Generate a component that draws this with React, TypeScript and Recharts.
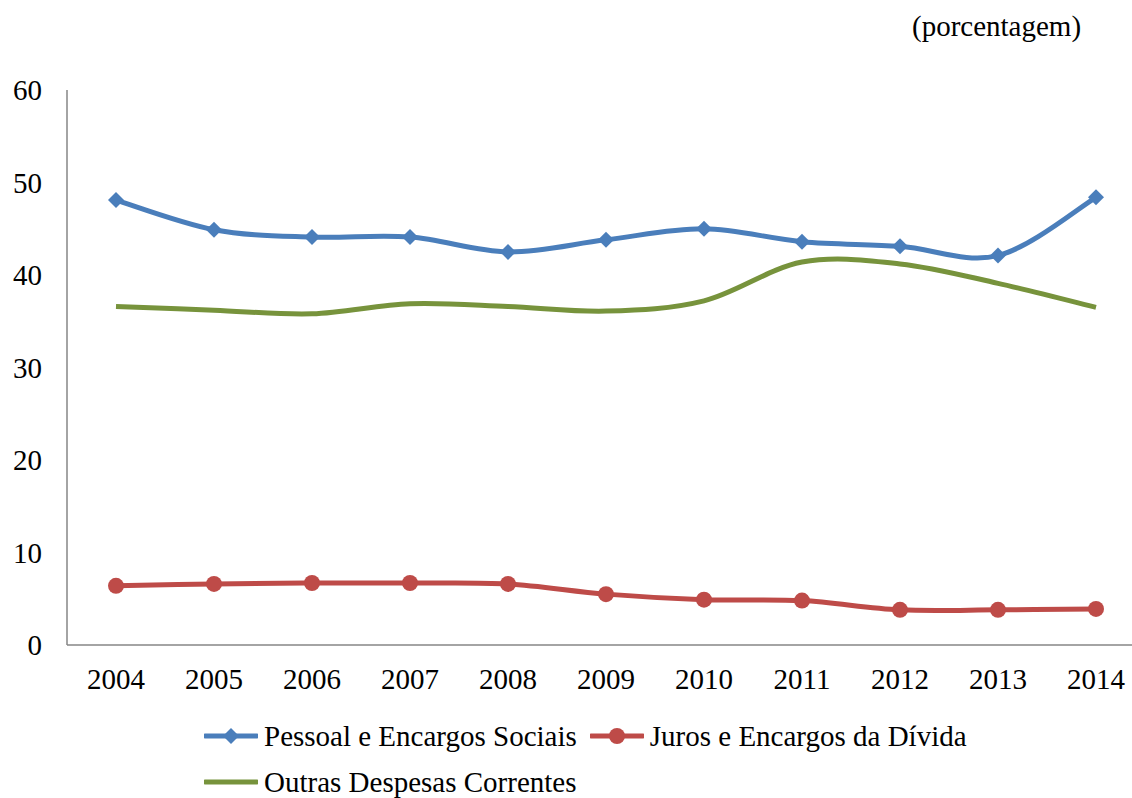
import React from 'react';
import { LineChart, Line, XAxis, YAxis } from 'recharts';

// --- Data ---
const years = ['2004', '2005', '2006', '2007', '2008', '2009', '2010', '2011', '2012', '2013', '2014'];
const pessoal = [48.1, 44.9, 44.1, 44.1, 42.5, 43.8, 45.0, 43.6, 43.1, 42.1, 48.4];
const juros = [6.4, 6.6, 6.7, 6.7, 6.6, 5.5, 4.9, 4.8, 3.8, 3.8, 3.9];
const outras = [36.6, 36.2, 35.8, 36.9, 36.6, 36.1, 37.2, 41.4, 41.2, 39.1, 36.5];
const yTicks = [0, 10, 20, 30, 40, 50, 60];

const FONT = '"Liberation Serif", "Times New Roman", serif';
const AXIS_COLOR = '#868686';

const series = [
  { key: 'pessoal', name: 'Pessoal e Encargos Sociais', color: '#4A7EBB', marker: 'diamond' },
  { key: 'juros', name: 'Juros e Encargos da Dívida', color: '#BE4B48', marker: 'circle' },
  { key: 'outras', name: 'Outras Despesas Correntes', color: '#77933C', marker: 'none' },
];

const data = years.map((year, i) => ({
  year,
  pessoal: pessoal[i],
  juros: juros[i],
  outras: outras[i],
}));

// Smoothed line like a spreadsheet's "smooth line" option (Catmull-Rom bezier)
const smoothCurve = (context: any) => {
  let pts: number[][] = [];
  return {
    areaStart() {},
    areaEnd() {},
    lineStart() {
      pts = [];
    },
    point(x: number, y: number) {
      pts.push([+x, +y]);
    },
    lineEnd() {
      const n = pts.length;
      if (!n) return;
      context.moveTo(pts[0][0], pts[0][1]);
      for (let i = 0; i < n - 1; i++) {
        const p0 = pts[Math.max(i - 1, 0)];
        const p1 = pts[i];
        const p2 = pts[i + 1];
        const p3 = pts[Math.min(i + 2, n - 1)];
        context.bezierCurveTo(
          p1[0] + (p2[0] - p0[0]) / 6,
          p1[1] + (p2[1] - p0[1]) / 6,
          p2[0] - (p3[0] - p1[0]) / 6,
          p2[1] - (p3[1] - p1[1]) / 6,
          p2[0],
          p2[1]
        );
      }
    },
  };
};

const Diamond = (props: any) => {
  const { cx, cy, fill, size = 8 } = props;
  if (cx == null || cy == null) return null;
  return (
    <polygon
      points={`${cx},${cy - size} ${cx + size},${cy} ${cx},${cy + size} ${cx - size},${cy}`}
      fill={fill}
    />
  );
};

const DiamondDot = (color: string) => (props: any) => (
  <Diamond key={`d-${props.index}`} cx={props.cx} cy={props.cy} fill={color} />
);

const CircleDot = (color: string) => (props: any) => {
  const { cx, cy, index } = props;
  if (cx == null || cy == null) return null;
  return <circle key={`c-${index}`} cx={cx} cy={cy} r={8} fill={color} />;
};

const LegendItem = ({ name, color, marker }: { name: string; color: string; marker: string }) => (
  <div style={{ display: 'flex', alignItems: 'center', marginRight: 13 }}>
    <svg width={54} height={20} style={{ marginRight: 6 }}>
      <line x1={1} y1={10} x2={53} y2={10} stroke={color} strokeWidth={5} strokeLinecap="round" />
      {marker === 'diamond' && <Diamond cx={27} cy={10} fill={color} size={8} />}
      {marker === 'circle' && <circle cx={27} cy={10} r={8} fill={color} />}
    </svg>
    <span>{name}</span>
  </div>
);

const DespesasCorrentesChart = () => {
  return (
    <div
      style={{
        position: 'absolute',
        left: 0,
        top: 0,
        width: 1132,
        height: 798,
        overflow: 'hidden',
        background: '#fff',
        fontFamily: FONT,
      }}
    >
      <div style={{ position: 'absolute', left: 912, top: 10, fontSize: 29, color: '#000' }}>
        (porcentagem)
      </div>

      <LineChart width={1145} height={798} data={data} margin={{ top: 90, right: 0, left: 0, bottom: 93 }}>
        <XAxis
          dataKey="year"
          height={60}
          padding={{ left: 49, right: 49 }}
          stroke={AXIS_COLOR}
          strokeWidth={1.5}
          tickLine={false}
          tickSize={6}
          tickMargin={17}
          tick={{ fill: '#000', fontSize: 29, fontFamily: FONT }}
          interval={0}
        />
        <YAxis
          width={67}
          domain={[0, 60]}
          ticks={yTicks}
          stroke={AXIS_COLOR}
          strokeWidth={1.5}
          tickLine={false}
          tickSize={6}
          tickMargin={19}
          tick={{ fill: '#000', fontSize: 29, fontFamily: FONT }}
        />
        <Line
          dataKey="outras"
          name={series[2].name}
          type={smoothCurve as any}
          stroke={series[2].color}
          strokeWidth={5}
          dot={false}
          activeDot={false}
          isAnimationActive={false}
        />
        <Line
          dataKey="juros"
          name={series[1].name}
          type={smoothCurve as any}
          stroke={series[1].color}
          strokeWidth={5}
          dot={CircleDot(series[1].color)}
          activeDot={false}
          isAnimationActive={false}
        />
        <Line
          dataKey="pessoal"
          name={series[0].name}
          type={smoothCurve as any}
          stroke={series[0].color}
          strokeWidth={5}
          dot={DiamondDot(series[0].color)}
          activeDot={false}
          isAnimationActive={false}
        />
      </LineChart>

      <div style={{ position: 'absolute', left: 204, top: 718, fontSize: 29, color: '#000', lineHeight: '36px' }}>
        <div style={{ display: 'flex' }}>
          <LegendItem {...series[0]} />
          <LegendItem {...series[1]} />
        </div>
        <div style={{ display: 'flex', marginTop: 10 }}>
          <LegendItem {...series[2]} />
        </div>
      </div>
    </div>
  );
};

export default DespesasCorrentesChart;
